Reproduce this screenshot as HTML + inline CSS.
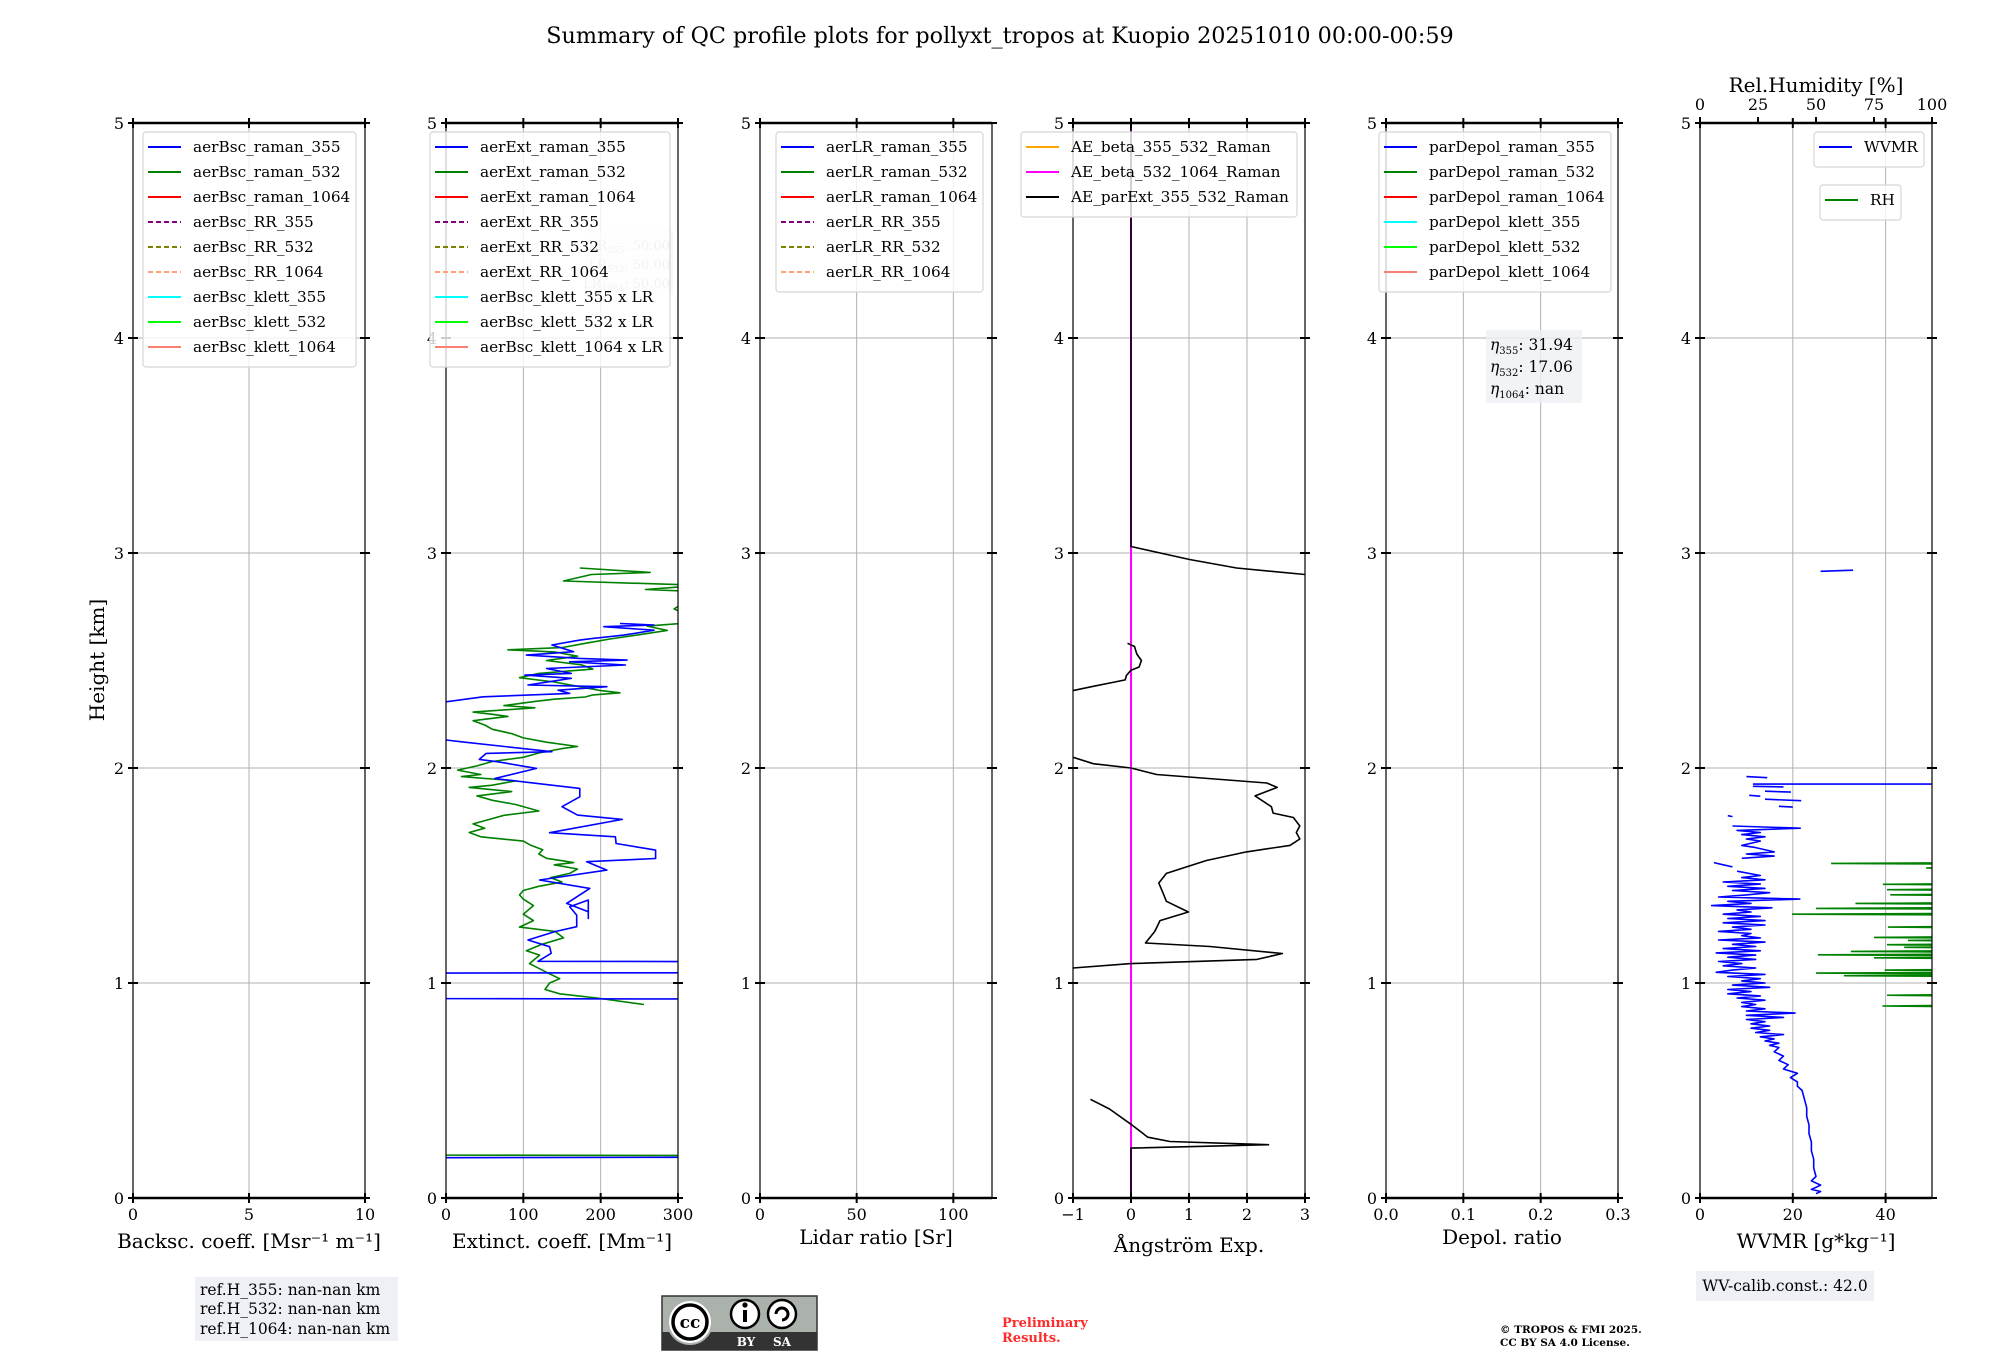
<!DOCTYPE html>
<html><head><meta charset="utf-8"><style>
body{margin:0;background:#fff}
svg text{font-family:"DejaVu Serif","Liberation Serif",serif}
</style></head><body>
<svg id="fig" xmlns="http://www.w3.org/2000/svg" width="2000" height="1360" viewBox="0 0 2000 1360">
<rect width="2000" height="1360" fill="#fff"/>
<text x="1000" y="43" font-size="22.3" text-anchor="middle">Summary of QC profile plots for pollyxt_tropos at Kuopio 20251010 00:00-00:59</text>
<text transform="translate(104,660) rotate(-90)" font-size="20" text-anchor="middle">Height [km]</text>
<g id="panels"></g>
<g id="overlay"></g>
</svg>
<script>
// ---------- data ----------
const heightTicks = [0,1,2,3,4,5];
const extGreenH = [2.93,2.91,2.90,2.87,2.85,2.83,2.82,2.74,2.68,2.66,2.64,2.62,2.60,2.58,2.56,2.55,2.54,2.52,2.50,2.48,2.46,2.44,2.42,2.40,2.38,2.36,2.35,2.34,2.33,2.32,2.31,2.29,2.28,2.26,2.25,2.24,2.22,2.20,2.18,2.16,2.14,2.12,2.10,2.09,2.07,2.05,2.03,2.01,1.99,1.97,1.96,1.94,1.92,1.91,1.89,1.87,1.85,1.83,1.80,1.78,1.76,1.74,1.72,1.70,1.68,1.66,1.64,1.62,1.60,1.58,1.56,1.55,1.53,1.51,1.49,1.47,1.45,1.43,1.41,1.39,1.36,1.32,1.29,1.26,1.24,1.21,1.18,1.15,1.13,1.09,1.05,1.02,1.00,0.97,0.95,0.93,0.90,null,0.200,0.197];
const extGreenV = [173,264,188,152,330,258,330,295,330,260,286,250,212,180,150,80,140,170,130,175,190,120,95,140,170,200,225,190,180,140,115,75,115,35,60,80,35,50,60,85,100,130,170,150,120,100,60,40,15,45,20,90,60,30,85,40,60,90,120,75,55,35,50,30,45,100,110,125,120,130,165,140,170,160,135,150,120,100,95,100,113,100,113,95,141,152,124,104,121,108,130,147,134,128,147,195,256,null,-100,400];
const extBlueH = [2.672,2.665,2.657,2.641,2.618,2.603,2.595,2.572,2.541,2.525,2.510,2.502,2.494,2.479,2.463,2.440,2.432,2.417,2.386,2.378,2.362,2.347,2.331,2.308,2.297,2.290,null,2.140,2.130,2.122,2.076,2.068,2.040,2.029,1.998,1.951,1.905,1.866,1.820,1.781,1.761,1.699,1.680,1.649,1.618,1.579,1.564,1.525,1.479,1.440,1.370,1.331,1.300,1.386,1.355,1.316,1.262,1.239,1.200,1.169,1.138,1.101,1.099,1.048,1.046,0.928,0.925,0.190,0.187];
const extBlueV = [225,269,204,269,230,190,173,137,165,104,173,234,160,232,130,162,102,162,106,208,145,160,48,0,-60,-80,null,-80,0,20,137,52,43,67,117,63,173,173,150,170,228,134,219,220,271,271,182,208,121,186,156,184,184,184,160,169,169,141,106,134,136,119,400,400,-100,-100,400,400,-100];
const aeParExtH = [5,3.03,2.97,2.93,2.90,2.88,null,2.58,2.565,2.53,2.50,2.47,2.455,2.43,2.41,2.40,2.38,2.36,2.35,null,2.06,2.05,2.02,2.00,1.97,1.93,1.91,1.87,1.82,1.79,1.77,1.73,1.70,1.67,1.64,1.61,1.57,1.51,1.465,1.42,1.38,1.33,1.29,1.24,1.186,1.17,1.137,1.11,1.09,1.07,1.068,null,0.459,0.414,0.343,0.283,0.263,0.248,0.232,0];
const aeParExtV = [0,0,1.01,1.82,3.0,3.4,null,-0.06,0.06,0.10,0.18,0.14,0.0,-0.08,-0.10,-0.28,-0.65,-1.0,-1.3,null,-1.3,-1.0,-0.65,0,0.44,2.34,2.52,2.14,2.42,2.45,2.80,2.91,2.85,2.91,2.74,1.99,1.30,0.61,0.48,0.55,0.61,0.99,0.50,0.41,0.25,1.36,2.61,2.17,0,-1.0,-1.3,null,-0.70,-0.37,0,0.29,0.67,2.37,0,0];
const aeBeta532H = [5,0];
const aeBeta532V = [0,0];
const wvmrH = [2.915,2.92,null,1.960,1.955,null,1.925,1.925,null,1.915,1.912,null,1.892,1.888,null,1.873,1.869,null,1.855,1.848,null,1.822,1.818,null,1.778,1.774,null,1.73,1.72,1.71,1.70,1.69,1.68,1.67,1.66,1.64,1.63,1.61,1.60,1.59,1.58,null,1.56,1.55,1.54,null,1.52,1.50,1.49,1.48,1.47,1.46,1.45,1.44,1.43,1.42,1.41,1.40,1.39,1.38,1.37,1.36,1.35,1.34,1.33,1.32,1.31,1.30,1.29,1.28,1.27,1.26,1.25,1.24,1.23,1.22,1.21,1.20,1.19,1.18,1.17,1.16,1.15,1.14,1.13,1.12,1.11,1.10,1.09,1.08,1.07,1.06,1.05,1.04,1.03,1.02,1.01,1.00,0.99,0.98,0.97,0.96,0.95,0.94,0.93,0.92,0.91,0.90,0.89,0.88,0.87,0.86,0.85,0.84,0.83,0.82,0.81,0.80,0.79,0.78,0.77,0.76,0.75,0.74,0.73,0.72,0.71,0.70,0.68,0.66,0.64,0.62,0.60,0.58,0.56,0.54,0.52,0.50,0.46,0.42,0.38,0.34,0.30,0.26,0.22,0.18,0.14,0.10,0.08,0.06,0.05,0.04,0.03,0.02];
const wvmrV = [26,33,null,10,14.5,null,11.4,60,null,11.4,18,null,14,19.6,null,10.6,13,null,14,21.8,null,17,20,null,6,7,null,7,21.6,8,13,9,14,10,13,9,12,16,10,16,9,null,3,5,7,null,8,13,9,14,5,13,6,14,7,15,10,4,21.5,6,11,2.5,15.5,8,11,5,13,6,14,5,14,7,11,4,11,9,13,4,14,7,12,5,13,3.5,12,6,12,4,9,5,12,7,3.5,14,6,13,9,14,7,15,6,11,6,13,8,14,9,12,9,14,10,20.5,10,18,10,14,11,15,11,15,12,18,13,16,14,17,15,17,16,18,17,19,18,21,19.5,21,21,22,22.5,23,23,23.5,23.5,24,24,24.5,24.5,25,24,26,25,24,26,25];
const rhH = [1.556,1.535,1.459,1.434,1.41,1.37,1.347,1.32,1.26,1.212,1.198,1.178,1.166,1.147,1.131,1.117,1.06,1.046,1.034,0.943,0.893];
const rhV = [56.5,97.5,78.8,80.6,82,67,50,39.7,81,75,89.6,80.6,88,65,50.8,75,79.6,50,62,80.6,78.6];

// ---------- layout ----------
const TOP=123, BOT=1198, PW=232;
const yOf = h => BOT - h*(BOT-TOP)/5;
const NS="http://www.w3.org/2000/svg";
const panelsG=document.getElementById('panels');
const overlay=document.getElementById('overlay');
function el(tag,attrs,parent,text){const e=document.createElementNS(NS,tag);for(const k in attrs)e.setAttribute(k,attrs[k]);if(text!==undefined)e.textContent=text;(parent||panelsG).appendChild(e);return e;}

const panels=[
 {name:'backscatter',left:133,min:0,max:10,ticks:[0,5,10],labels:['0','5','10'],xlabel:'Backsc. coeff. [Msr⁻¹ m⁻¹]',ly:1261},
 {name:'extinction',left:446,min:0,max:300,ticks:[0,100,200,300],labels:['0','100','200','300'],xlabel:'Extinct. coeff. [Mm⁻¹]',ly:1261},
 {name:'lidar-ratio',left:760,min:0,max:120,ticks:[0,50,100],labels:['0','50','100'],xlabel:'Lidar ratio [Sr]',ly:1257},
 {name:'angstrom',left:1073,min:-1,max:3,ticks:[-1,0,1,2,3],labels:['−1','0','1','2','3'],xlabel:'Ångström Exp.',ly:1265},
 {name:'depol',left:1386,min:0,max:0.3,ticks:[0,0.1,0.2,0.3],labels:['0.0','0.1','0.2','0.3'],xlabel:'Depol. ratio',ly:1257},
 {name:'wvmr',left:1700,min:0,max:50,ticks:[0,20,40],labels:['0','20','40'],xlabel:'WVMR [g*kg⁻¹]',ly:1261}
];
panels.forEach((p,i)=>{
  p.x=v=>p.left+(v-p.min)/(p.max-p.min)*PW;
  const g=el('g',{},panelsG);
  
  
  p.g=g;
  const cp=el('clipPath',{id:'clip'+i},g);
  el('rect',{x:p.left,y:TOP,width:PW,height:BOT-TOP},cp);
  p.ticks.forEach(t=>{const l=el('line',{x1:p.x(t),x2:p.x(t),y1:TOP,y2:BOT,stroke:'#b0b0b0','stroke-width':1},g);});
  heightTicks.forEach(h=>{const l=el('line',{x1:p.left,x2:p.left+PW,y1:yOf(h),y2:yOf(h),stroke:'#b0b0b0','stroke-width':1},g);});
  p.plot=el('g',{'clip-path':'url(#clip'+i+')'},g);
});

function line(p,H,V,color,w,name,dash){
  let d='',pen=false;
  for(let k=0;k<H.length;k++){
    if(H[k]===null||V[k]===null){pen=false;continue;}
    d+=(pen?'L':'M')+p.x(V[k]).toFixed(1)+' '+yOf(H[k]).toFixed(1)+' ';pen=true;
  }
  const e=el('path',{d:d,fill:'none',stroke:color,'stroke-width':w||1.5,'stroke-linejoin':'round'},p.plot);
  if(dash)e.setAttribute('stroke-dasharray',dash);
  
  
}
line(panels[1],extGreenH,extGreenV,'#008000',1.6,'ext-532-line');
line(panels[1],extBlueH,extBlueV,'#0000ff',1.6,'ext-355-line');
line(panels[3],aeBeta532H,aeBeta532V,'#ff00ff',2,'ae-beta-532-1064-line');
line(panels[3],aeParExtH,aeParExtV,'#000000',1.6,'ae-parext-355-532-line');
line(panels[5],wvmrH,wvmrV,'#0000ff',1.6,'wvmr-line');
rhH.forEach((h,k)=>{
  const p=panels[5];const xr=v=>p.left+v/100*PW;
  const e=el('path',{d:`M${xr(120)} ${yOf(h)+0.8} L${xr(rhV[k])} ${yOf(h)} L${xr(120)} ${yOf(h)-0.8}`,fill:'none',stroke:'#008000','stroke-width':1.6},p.plot);
  
  
});

panels.forEach((p,i)=>{
  const g=p.g;
  el('line',{x1:p.left,x2:p.left,y1:TOP,y2:BOT,stroke:'#000','stroke-width':1.2},g);
  el('line',{x1:p.left+PW,x2:p.left+PW,y1:TOP,y2:BOT,stroke:'#000','stroke-width':1.2},g);
  el('line',{x1:p.left,x2:p.left+PW,y1:TOP,y2:TOP,stroke:'#000','stroke-width':2.4},g);
  el('line',{x1:p.left,x2:p.left+PW,y1:BOT,y2:BOT,stroke:'#000','stroke-width':2.4},g);
  p.ticks.forEach((t,k)=>{
    const x=p.x(t);
    el('line',{x1:x,x2:x,y1:BOT-5,y2:BOT+5,stroke:'#000','stroke-width':2},g);
    el('line',{x1:x,x2:x,y1:TOP-5,y2:TOP+5,stroke:'#000','stroke-width':2},g);
    const tl=el('text',{x:x,y:1220,'font-size':16,'text-anchor':'middle'},g,p.labels[k]);
    
    
  });
  heightTicks.forEach(h=>{
    const y=yOf(h);
    el('line',{x1:p.left-5,x2:p.left+5,y1:y,y2:y,stroke:'#000','stroke-width':2},g);
    el('line',{x1:p.left+PW-5,x2:p.left+PW+5,y1:y,y2:y,stroke:'#000','stroke-width':2},g);
    const tl=el('text',{x:p.left-9,y:y+6,'font-size':16,'text-anchor':'end'},g,String(h));
    
    
  });
  const xl=el('text',{x:p.left+PW/2,y:p.ly-13,'font-size':20,'text-anchor':'middle'},g,p.xlabel);
  
  
});
(function(){
  const p=panels[5];const g=p.g;
  [0,25,50,75,100].forEach(v=>{
    const x=p.left+v/100*PW;
    el('line',{x1:x,x2:x,y1:TOP-6,y2:TOP,stroke:'#000','stroke-width':2},g);
    const t=el('text',{x:x,y:110,'font-size':16,'text-anchor':'middle'},g,String(v));
    
    
  });
  const t=el('text',{x:p.left+PW/2,y:92,'font-size':20,'text-anchor':'middle'},g,'Rel.Humidity [%]');
  
  
})();

(function(){
  const g=el('g',{},overlay);
  
  
  el('rect',{x:585,y:230,width:88,height:64,fill:'#f4f4f4',opacity:0.6},g);
  ['355','532','1064'].forEach((w,k)=>{
    const t=el('text',{x:670,y:250+k*19,'font-size':13,'text-anchor':'end',fill:'#bbb'},g);
    t.innerHTML='LR<tspan font-size="9" dy="3">'+w+'</tspan><tspan dy="-3">: 50.00</tspan>';
  });
})();

function legend(x,y,w,entries,name){
  const g=el('g',{},overlay);
  
  
  el('rect',{x:x,y:y,width:w,height:entries.length*25+10,rx:3,fill:'rgba(255,255,255,0.8)',stroke:'#d5d5d5','stroke-width':1.2},g);
  entries.forEach((e,k)=>{
    const yy=y+15+k*25;
    const l=el('line',{x1:x+5,x2:x+38,y1:yy,y2:yy,stroke:e[1],'stroke-width':2},g);
    if(e[2])l.setAttribute('stroke-dasharray','5 3');
    const t=el('text',{x:x+50,y:yy+5,'font-size':15.3},g,e[0]);
    
    
  });
}
const BL='#0000ff',GR='#008000',RD='#ff0000',PU='#800080',OL='#808000',LS='#ffa07a',CY='#00ffff',LI='#00ff00',SA='#fa8072';
legend(143,132,213,[['aerBsc_raman_355',BL],['aerBsc_raman_532',GR],['aerBsc_raman_1064',RD],['aerBsc_RR_355',PU,1],['aerBsc_RR_532',OL,1],['aerBsc_RR_1064',LS,1],['aerBsc_klett_355',CY],['aerBsc_klett_532',LI],['aerBsc_klett_1064',SA]],'backscatter-legend');
legend(430,132,240,[['aerExt_raman_355',BL],['aerExt_raman_532',GR],['aerExt_raman_1064',RD],['aerExt_RR_355',PU,1],['aerExt_RR_532',OL,1],['aerExt_RR_1064',LS,1],['aerBsc_klett_355 x LR',CY],['aerBsc_klett_532 x LR',LI],['aerBsc_klett_1064 x LR',SA]],'extinction-legend');
legend(776,132,207,[['aerLR_raman_355',BL],['aerLR_raman_532',GR],['aerLR_raman_1064',RD],['aerLR_RR_355',PU,1],['aerLR_RR_532',OL,1],['aerLR_RR_1064',LS,1]],'lidar-ratio-legend');
legend(1021,132,276,[['AE_beta_355_532_Raman','#ffa500'],['AE_beta_532_1064_Raman','#ff00ff'],['AE_parExt_355_532_Raman','#000000']],'angstrom-legend');
legend(1379,132,232,[['parDepol_raman_355',BL],['parDepol_raman_532',GR],['parDepol_raman_1064',RD],['parDepol_klett_355',CY],['parDepol_klett_532',LI],['parDepol_klett_1064',SA]],'depol-legend');
legend(1814,132,110,[['WVMR',BL]],'wvmr-legend');
legend(1820,185,81,[['RH',GR]],'rh-legend');
</script>
<div style="position:absolute;left:0;top:0;width:2000px;height:1360px;pointer-events:none">
<svg width="2000" height="1360" style="position:absolute;left:0;top:0" xmlns="http://www.w3.org/2000/svg">
<g font-family="DejaVu Serif, serif">
<rect x="1486" y="330" width="96" height="73" fill="#eef0f5" opacity="0.8"/>
<text x="1490" y="350" font-size="15.5"><tspan font-style="italic">η</tspan><tspan font-size="10" dy="4">355</tspan><tspan dy="-4">: 31.94</tspan></text>
<text x="1490" y="372" font-size="15.5"><tspan font-style="italic">η</tspan><tspan font-size="10" dy="4">532</tspan><tspan dy="-4">: 17.06</tspan></text>
<text x="1490" y="394" font-size="15.5"><tspan font-style="italic">η</tspan><tspan font-size="10" dy="4">1064</tspan><tspan dy="-4">: nan</tspan></text>
</g>
<g font-family="DejaVu Serif, serif">
<rect x="195" y="1277" width="203" height="64" fill="#eef0f5"/>
<text x="200" y="1295" font-size="15.5">ref.H_355: nan-nan km</text>
<text x="200" y="1314" font-size="15.5">ref.H_532: nan-nan km</text>
<text x="200" y="1334" font-size="15.5">ref.H_1064: nan-nan km</text>
</g>
<g>
<rect x="662" y="1296" width="155" height="54" fill="#aab2ab" stroke="#333" stroke-width="1.5"/>
<rect x="662" y="1332" width="155" height="18" fill="#333"/>
<circle cx="690" cy="1322" r="22" fill="#fff" stroke="#aab2ab" stroke-width="2"/>
<circle cx="690" cy="1322" r="17" fill="#fff" stroke="#000" stroke-width="3.5"/>
<text x="690" y="1328" font-size="17" font-weight="bold" text-anchor="middle" font-family="Liberation Sans, sans-serif">cc</text>
<circle cx="745" cy="1314" r="14" fill="#fff" stroke="#000" stroke-width="2.5"/>
<rect x="743" y="1310" width="4" height="12" fill="#000"/><circle cx="745" cy="1305" r="2.6" fill="#000"/>
<circle cx="782" cy="1314" r="14" fill="#fff" stroke="#000" stroke-width="2.5"/>
<path d="M776 1314 A6 6 0 1 1 782 1320" fill="none" stroke="#000" stroke-width="3"/>
<text x="746" y="1346" font-size="12" fill="#fff" font-weight="bold" text-anchor="middle" font-family="Liberation Sans, sans-serif">BY</text>
<text x="782" y="1346" font-size="12" fill="#fff" font-weight="bold" text-anchor="middle" font-family="Liberation Sans, sans-serif">SA</text>
</g>
<g font-family="DejaVu Serif, serif">
<text x="1002" y="1327" font-size="13" font-weight="bold" fill="#ff2a2a">Preliminary</text>
<text x="1002" y="1342" font-size="13" font-weight="bold" fill="#ff2a2a">Results.</text>
</g>
<g font-family="DejaVu Serif, serif">
<text x="1500" y="1333" font-size="10.5" font-weight="bold">© TROPOS &amp; FMI 2025.</text>
<text x="1500" y="1346" font-size="10.5" font-weight="bold">CC BY SA 4.0 License.</text>
</g>
<g font-family="DejaVu Serif, serif">
<rect x="1696" y="1271" width="178" height="30" fill="#eef0f5"/>
<text x="1785" y="1291" font-size="15.5" text-anchor="middle">WV-calib.const.: 42.0</text>
</g>
</svg></div>
</body></html>
